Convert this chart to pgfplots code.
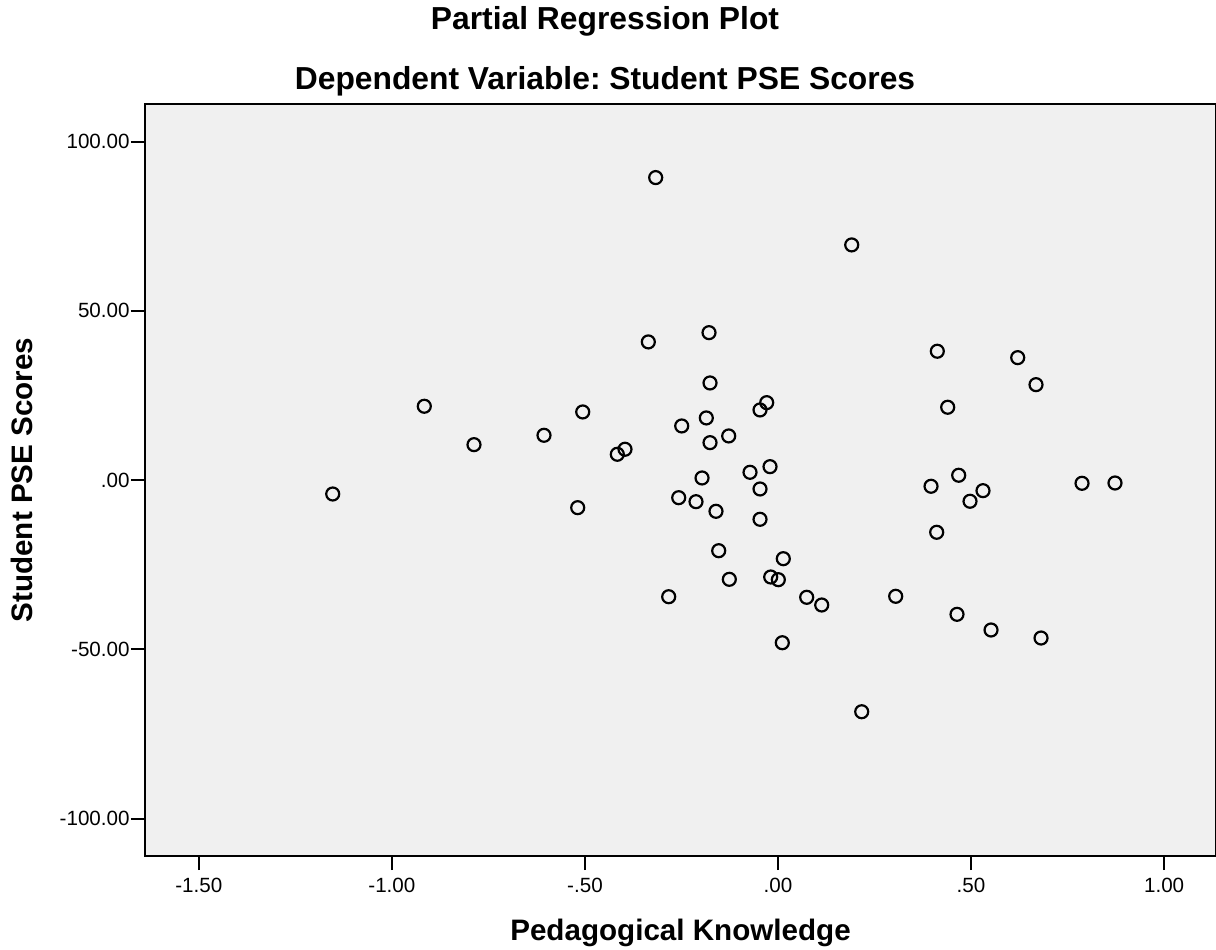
\documentclass[border=0pt]{standalone}
\usepackage{fontspec}
\setmainfont{Liberation Sans}
\usepackage{pgfplots}
\usepackage{pgfplotstable}
\pgfplotsset{compat=1.18}
\definecolor{bg}{HTML}{F0F0F0}
\frenchspacing
\pgfplotstableread{
x y
-1.1533 -4.08
-0.9161 21.83
-0.7874 10.49
-0.6061 13.26
-0.5058 20.15
-0.5188 -8.12
-0.4162 7.65
-0.3963 9.13
-0.3168 89.37
-0.3359 40.83
-0.2831 -34.42
-0.2572 -5.17
-0.2494 16.01
-0.2124 -6.35
-0.1968 0.65
-0.1857 18.38
-0.1787 43.57
-0.1761 28.71
-0.1761 11.08
-0.1606 -9.19
-0.1536 -20.83
-0.1277 13.06
-0.1261 -29.28
-0.0725 2.33
-0.0466 20.74
-0.0466 -2.60
-0.0466 -11.55
-0.0293 22.90
-0.0207 3.99
-0.0189 -28.60
0.0008 -29.39
0.0137 -23.19
0.0111 -48.01
0.0743 -34.59
0.1132 -36.87
0.1909 69.48
0.2168 -68.39
0.3048 -34.30
0.4126 38.08
0.4395 21.54
0.3963 -1.80
0.4110 -15.39
0.4680 1.45
0.4636 -39.62
0.4973 -6.23
0.5309 -3.10
0.5517 -44.25
0.6208 36.19
0.6682 28.21
0.6812 -46.62
0.7874 -0.92
0.8728 -0.83
}\pts
\begin{document}
\begin{tikzpicture}
\useasboundingbox (-72.5pt,-46.5pt) rectangle (535.5pt,428pt);
\begin{axis}[
  at={(0pt,0pt)}, anchor=south west,
  scale only axis, width=535.5pt, height=376pt,
  xmin=-1.6395, xmax=1.1344, ymin=-111.0, ymax=111.1,
  axis background/.style={fill=bg},
  axis line style={line width=1pt},
  xtick={-1.5,-1,-0.5,0,0.5,1},
  xticklabels={-1.50,-1.00,-.50,.00,.50,1.00},
  ytick={-100,-50,0,50,100},
  yticklabels={-100.00,-50.00,.00,50.00,100.00},
  tick align=outside, xtick pos=bottom, ytick pos=left,
  major tick length=7pt,
  every tick/.style={line width=1pt, black},
  tick label style={font=\fontsize{10.3pt}{12pt}\selectfont},
  xticklabel style={anchor=north, inner sep=0pt, yshift=-4pt},
  yticklabel style={anchor=east, inner sep=0pt, xshift=-0.5pt},
  xlabel={Pedagogical Knowledge},
  ylabel={Student PSE Scores},
  label style={font=\bfseries\fontsize{14.8pt}{17pt}\selectfont},
  xlabel style={at={(rel axis cs:0.5,0)}, anchor=base, yshift=-42pt},
  ylabel style={at={(rel axis cs:0,0.5)}, anchor=base, rotate=0, yshift=56pt},
]
\addplot[only marks, mark=o, mark size=3.25pt, mark options={line width=1.1pt, draw=black}] table[x=x,y=y] {\pts};
\end{axis}
\node[anchor=base, font=\bfseries\fontsize{15.9pt}{18pt}\selectfont] at (230pt,413pt) {Partial Regression Plot};
\node[anchor=base, font=\bfseries\fontsize{15.9pt}{18pt}\selectfont] at (230pt,383pt) {Dependent Variable: Student PSE Scores};
\end{tikzpicture}
\end{document}
